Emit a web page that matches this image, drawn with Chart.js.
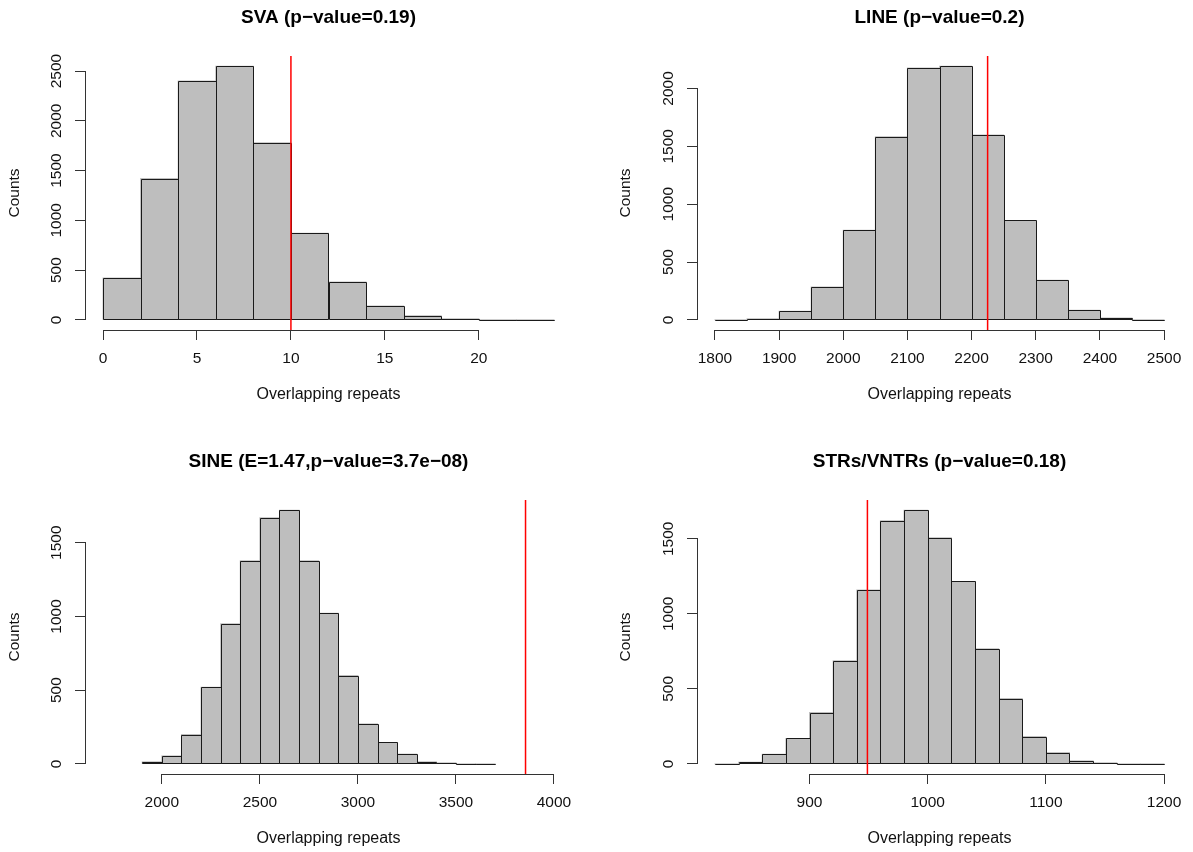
<!DOCTYPE html>
<html>
<head>
<meta charset="utf-8">
<script src="https://cdn.jsdelivr.net/npm/chart.js@4.4.1/dist/chart.umd.min.js"></script>
<style>
html,body{margin:0;padding:0;background:#fff;}
#page{position:relative;width:1193px;height:852px;overflow:hidden;background:#fff;}
canvas{position:absolute;}
</style>
</head>
<body>
<div id="page">
<canvas id="c1" width="600" height="408" style="left:0px;top:0px"></canvas>
<canvas id="c2" width="582" height="408" style="left:611px;top:0px"></canvas>
<canvas id="c3" width="600" height="408" style="left:0px;top:444px"></canvas>
<canvas id="c4" width="582" height="408" style="left:611px;top:444px"></canvas>
</div>
<script>
// ---------------- DATA ----------------
const svaTitle = 'SVA (p\u2212value=0.19)';
const svaBreaks = [0,2,4,6,8,10,12,14,16,18,20,22,24];
const svaCounts = [420,1420,2400,2550,1780,870,380,140,40,10,0,0];
const svaObserved = 10;
const svaXTicks = [0,5,10,15,20];
const svaYTicks = [0,500,1000,1500,2000,2500];
const svaXlim = [0,24];

const lineTitle = 'LINE (p\u2212value=0.2)';
const lineBreaks = [1800,1850,1900,1950,2000,2050,2100,2150,2200,2250,2300,2350,2400,2450,2500];
const lineCounts = [0,9,75,285,775,1582,2176,2193,1597,859,343,84,17,0];
const lineObserved = 2225;
const lineXTicks = [1800,1900,2000,2100,2200,2300,2400,2500];
const lineYTicks = [0,500,1000,1500,2000];
const lineXlim = [1800,2500];

const sineTitle = 'SINE (E=1.47,p\u2212value=3.7e\u221208)';
const sineBreaks = [1900,2000,2100,2200,2300,2400,2500,2600,2700,2800,2900,3000,3100,3200,3300,3400,3500,3600,3700];
const sineCounts = [14,54,199,520,951,1378,1669,1721,1378,1021,599,271,145,66,14,7,0,0];
const sineObserved = 3855;
const sineXTicks = [2000,2500,3000,3500,4000];
const sineYTicks = [0,500,1000,1500];
const sineXlim = [1700,4000];

const strTitle = 'STRs/VNTRs (p\u2212value=0.18)';
const strBreaks = [820,840,860,880,900,920,940,960,980,1000,1020,1040,1060,1080,1100,1120,1140,1160,1180,1200];
const strCounts = [0,11,64,169,342,688,1158,1620,1691,1507,1216,768,435,182,75,20,7,0,0];
const strObserved = 949;
const strXTicks = [900,1000,1100,1200];
const strYTicks = [0,500,1000,1500];
const strXlim = [820,1200];

const xAxisLabel = 'Overlapping repeats';
const yAxisLabel = 'Counts';

// ---------------- STYLE ----------------
Chart.defaults.font.family = "'Liberation Sans', Arial, Helvetica, sans-serif";
const TEXT = '#111';
const AXIS = '#333';
const BAR_FILL = '#bebebe';
const BAR_EDGE = '#1a1a1a';
const OBS_COLOR = '#ff0000';

// R-style axis lines (first tick to last tick)
const rAxesPlugin = {
  id: 'rAxes',
  afterDraw(chart) {
    const {ctx, chartArea, scales} = chart;
    const xs = scales.x, ys = scales.y;
    ctx.save();
    ctx.strokeStyle = AXIS;
    ctx.lineWidth = 1;
    const xt = xs.ticks;
    const yb = Math.round(chartArea.bottom) + 0.5;
    ctx.beginPath();
    ctx.moveTo(Math.round(xs.getPixelForValue(xt[0].value) - 0.5), yb);
    ctx.lineTo(Math.round(xs.getPixelForValue(xt[xt.length - 1].value) - 0.5) + 1, yb);
    ctx.stroke();
    const yt = ys.ticks;
    const xl = Math.round(chartArea.left) + 0.5;
    ctx.beginPath();
    ctx.moveTo(xl, Math.round(ys.getPixelForValue(yt[0].value) - 0.5) + 1);
    ctx.lineTo(xl, Math.round(ys.getPixelForValue(yt[yt.length - 1].value) - 0.5));
    ctx.stroke();
    ctx.restore();
  }
};

// crisp outlines of the histogram rectangles, taken from the bar elements
const outlinePlugin = {
  id: 'rectOutline',
  afterDatasetDraw(chart, args) {
    if (args.index !== 0) return;
    const {ctx} = chart;
    const bars = args.meta.data;
    ctx.save();
    ctx.strokeStyle = BAR_EDGE;
    ctx.lineWidth = 1;
    ctx.beginPath();
    bars.forEach((b) => {
      const p = b.getProps(['x', 'y', 'base', 'width'], true);
      const l = Math.round(p.x - p.width / 2) + 0.5;
      const r = Math.round(p.x + p.width / 2) + 0.5;
      const t = Math.round(p.y) + 0.5;
      const bt = Math.round(p.base) + 0.5;
      ctx.rect(l, Math.min(t, bt), r - l, Math.abs(bt - t));
    });
    ctx.stroke();
    ctx.restore();
  }
};

function makePanel(id, title, breaks, counts, observed, xTicks, yTicks, xlim, yAxisWidth, rightPad) {
  const centers = counts.map((c, i) => (breaks[i] + breaks[i + 1]) / 2);
  const maxCount = Math.max(...counts);
  const yMin = -0.04 * maxCount, yMax = 1.04 * maxCount;
  const xr = xlim[1] - xlim[0];
  const xMin = xlim[0] - 0.04 * xr, xMax = xlim[1] + 0.04 * xr;

  const axisCommon = {
    type: 'linear',
    bounds: 'data',
    offset: false,
    grid: {display: true, drawOnChartArea: false, drawTicks: true, tickLength: 10,
           color: AXIS, lineWidth: 1, offset: false},
    border: {display: false}
  };

  return new Chart(document.getElementById(id), {
    type: 'bar',
    data: {
      datasets: [
        {
          type: 'bar',
          data: centers.map((c, i) => ({x: c, y: counts[i]})),
          backgroundColor: BAR_FILL,
          borderWidth: 0,
          inflateAmount: 0.5,
          barPercentage: 1,
          categoryPercentage: 1,
          order: 3
        },
        {
          type: 'line',
          data: [{x: observed, y: yMin}, {x: observed, y: yMax}],
          borderColor: OBS_COLOR,
          borderWidth: 1.5,
          pointRadius: 0,
          fill: false,
          order: 1
        }
      ]
    },
    options: {
      responsive: false,
      animation: false,
      devicePixelRatio: 1,
      events: [],
      layout: {padding: {left: 0, right: rightPad, top: 0, bottom: 0}},
      plugins: {
        legend: {display: false},
        tooltip: {enabled: false},
        title: {
          display: true, text: title, fullSize: false, color: '#000',
          font: {size: 19, weight: 'bold'},
          padding: {top: 6.6, bottom: 26.6}
        }
      },
      scales: {
        x: Object.assign({}, axisCommon, {
          min: xMin, max: xMax,
          afterBuildTicks: (s) => { s.ticks = xTicks.map(v => ({value: v})); },
          afterFit: (s) => { s.height = 78; },
          ticks: {autoSkip: false, minRotation: 0, maxRotation: 0, padding: 9, color: TEXT,
                  font: {size: 15.5}, callback: (v) => String(v)},
          title: {display: true, text: xAxisLabel, color: TEXT, font: {size: 16},
                  padding: {top: 0, bottom: 3.4}}
        }),
        y: Object.assign({}, axisCommon, {
          min: yMin, max: yMax,
          afterBuildTicks: (s) => { s.ticks = yTicks.map(v => ({value: v})); },
          afterFit: (s) => { s.width = yAxisWidth; },
          ticks: {autoSkip: false, minRotation: 90, maxRotation: 90, crossAlign: 'center',
                  padding: 1, color: TEXT, font: {size: 15.5}, callback: (v) => String(v)},
          title: {display: true, text: yAxisLabel, color: TEXT, font: {size: 15.5},
                  padding: {top: 5.7, bottom: 0}}
        })
      }
    },
    plugins: [outlinePlugin, rAxesPlugin]
  });
}

makePanel('c1', svaTitle, svaBreaks, svaCounts, svaObserved, svaXTicks, svaYTicks, svaXlim, 85, 28);
makePanel('c2', lineTitle, lineBreaks, lineCounts, lineObserved, lineXTicks, lineYTicks, lineXlim, 86, 11);
makePanel('c3', sineTitle, sineBreaks, sineCounts, sineObserved, sineXTicks, sineYTicks, sineXlim, 85, 28);
makePanel('c4', strTitle, strBreaks, strCounts, strObserved, strXTicks, strYTicks, strXlim, 86, 11);
</script>
</body>
</html>
